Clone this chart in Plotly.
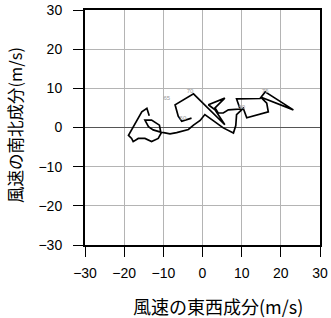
import plotly.graph_objects as go

# wind components (m/s)
u = [-13.6, -14.2, -15.5, -17.2, -18.5, -18.9, -18.1, -17.7, -16.4, -14.7, -13.0, -11.3, -10.6,
     -11.0, -13.0, -14.7, -13.8, -12.6, -10.9, -8.3, -6.6, -3.6, -2.3, -0.6, 0.6, 2.8, 5.3, 7.9,
     8.5, 8.7, 10.4, 11.3, 16.8, 16.4, 14.8, 23.2, 16.0, 14.7, 8.7, 9.6, 6.6, 5.3, 4.0, 3.2, 5.7,
     1.5, 3.2, 5.7, -2.3, -7.0, -6.2, -5.3, -2.8]
v = [3.0, 4.9, 4.0, 1.1, -1.1, -2.0, -2.8, -3.6, -2.8, -2.8, -3.6, -2.8, -1.5,
     0.6, 1.9, 1.9, 0.2, -0.6, -1.1, -1.6, -1.3, -0.5, 0.6, 1.8, 3.3, 1.6, -0.1, -1.4,
     0.5, 3.3, 4.9, 2.5, 4.0, 6.2, 7.8, 4.5, 9.1, 7.4, 7.3, 4.7, 4.5, 3.7, 3.7, 5.0, 7.5,
     5.8, 4.5, 0.7, 8.6, 5.8, 2.9, 1.6, 2.4]

mark_u = [-5.0, -9.1, -3.2, 16.0, 10.0]
mark_v = [2.4, 7.3, 9.3, 9.3, 5.1]
mark_text = ["60", "65", "70", "75", "80"]

tickvals = [-30, -20, -10, 0, 10, 20, 30]

FONT = "Liberation Sans, Arial, Noto Sans CJK JP"

fig = go.Figure()
fig.add_trace(go.Scatter(x=u, y=v, mode="lines",
                         line=dict(color="black", width=1.7), hoverinfo="skip"))
fig.add_trace(go.Scatter(x=mark_u, y=mark_v, mode="text", text=mark_text,
                         textfont=dict(size=6, color="#999999", family=FONT),
                         hoverinfo="skip"))

axis_common = dict(range=[-30, 30], tickvals=tickvals, ticks="outside", ticklen=10,
                   tickwidth=1, tickcolor="black", showline=True, linecolor="black",
                   linewidth=2, mirror=True, showgrid=True, gridcolor="#b4b4b4",
                   gridwidth=1, automargin=False,
                   tickfont=dict(size=14, color="black", family=FONT))

fig.update_xaxes(**axis_common, zeroline=False, ticklabelstandoff=4)
fig.update_yaxes(**axis_common, zeroline=True, zerolinecolor="#555555", zerolinewidth=1,
                 ticklabelstandoff=8)

fig.update_layout(
    width=331, height=318,
    margin=dict(l=85, r=11, t=10, b=73),
    plot_bgcolor="white", paper_bgcolor="white",
    showlegend=False,
    font=dict(family=FONT, color="black"),
    annotations=[
        dict(text="風速の東西成分(m/s)", xref="paper", yref="paper", x=0.566, y=-0.26,
             xanchor="center", yanchor="middle", showarrow=False,
             font=dict(size=18, family="Noto Sans CJK JP", color="black")),
        dict(text="風速の南北成分(m/s)", xref="paper", yref="paper", x=-0.298, y=0.51,
             xanchor="center", yanchor="middle", textangle=-90, showarrow=False,
             font=dict(size=16.5, family="Noto Sans CJK JP", color="black")),
    ],
)

fig.write_html("out.html")
